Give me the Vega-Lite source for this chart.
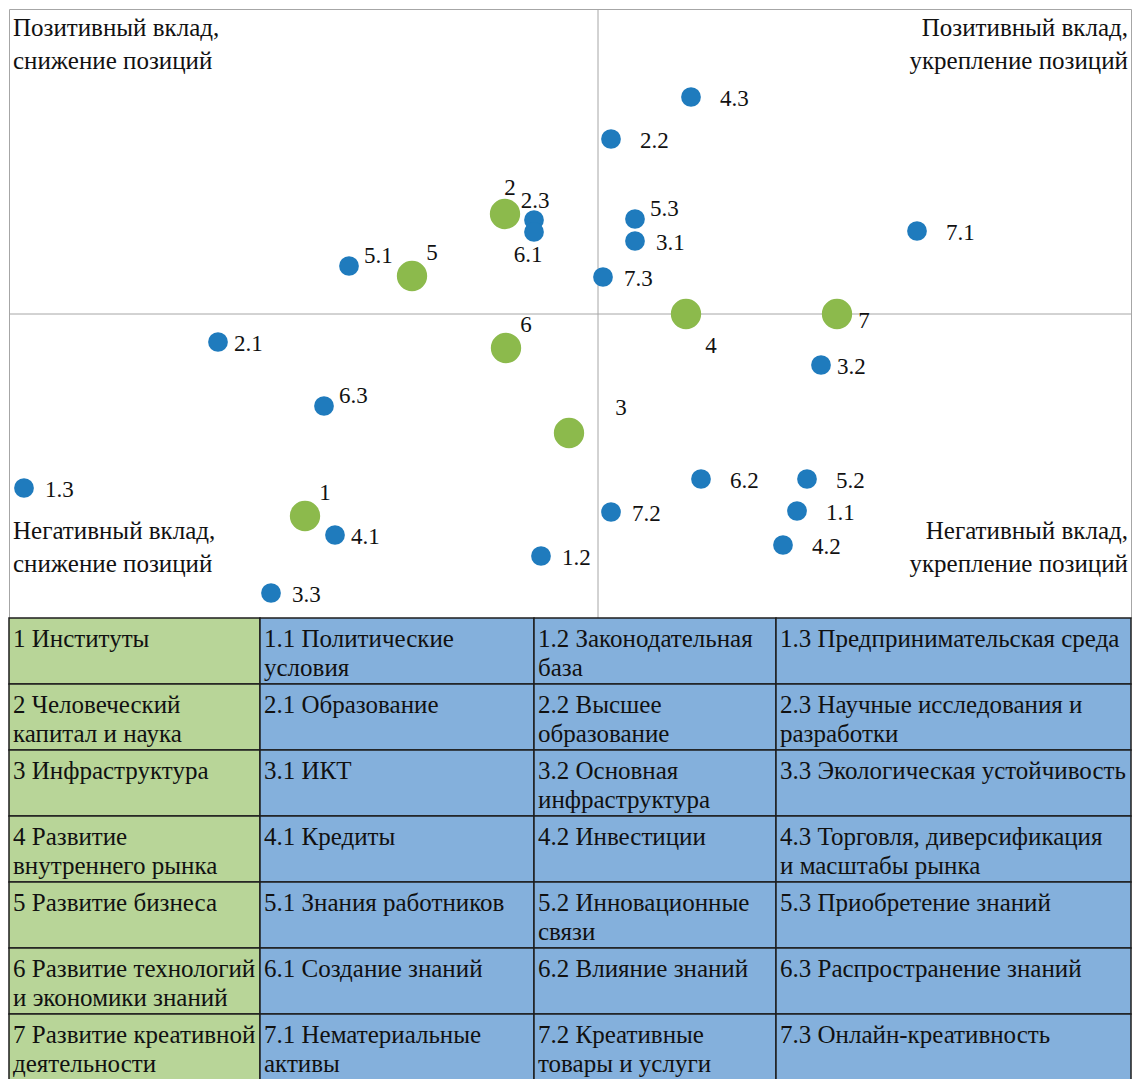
{
  "$schema": "https://vega.github.io/schema/vega-lite/v6.json",
  "background": "white",
  "padding": {"left": 8, "top": 8, "right": 4, "bottom": 0},
  "bounds": "flush",
  "spacing": 0,
  "config": {"view": {"stroke": null}, "concat": {"spacing": 0}, "font": "Liberation Serif", "text": {"font": "Liberation Serif", "color": "#111111"}},
  "datasets": {
    "pts": [
      {"id": "2", "x": -0.93, "y": 1.0, "t": "g", "lp": "k"},
      {"id": "5", "x": -1.86, "y": 0.38, "t": "g", "lp": "g"},
      {"id": "6", "x": -0.92, "y": -0.34, "t": "g", "lp": "g"},
      {"id": "4", "x": 0.88, "y": 0.0, "t": "g", "lp": "j"},
      {"id": "7", "x": 2.39, "y": 0.0, "t": "g", "lp": "i"},
      {"id": "3", "x": -0.29, "y": -1.19, "t": "g", "lp": "h"},
      {"id": "1", "x": -2.93, "y": -2.02, "t": "g", "lp": "g"},
      {"id": "4.3", "x": 0.93, "y": 2.17, "t": "b", "lp": "c"},
      {"id": "2.2", "x": 0.13, "y": 1.75, "t": "b", "lp": "c"},
      {"id": "2.3", "x": -0.64, "y": 0.94, "t": "b", "lp": "e"},
      {"id": "6.1", "x": -0.64, "y": 0.82, "t": "b", "lp": "f"},
      {"id": "5.3", "x": 0.37, "y": 0.95, "t": "b", "lp": "d"},
      {"id": "3.1", "x": 0.37, "y": 0.73, "t": "b", "lp": "b"},
      {"id": "7.1", "x": 3.19, "y": 0.83, "t": "b", "lp": "c"},
      {"id": "5.1", "x": -2.49, "y": 0.48, "t": "b", "lp": "d"},
      {"id": "7.3", "x": 0.05, "y": 0.37, "t": "b", "lp": "b"},
      {"id": "2.1", "x": -3.8, "y": -0.28, "t": "b", "lp": "a"},
      {"id": "3.2", "x": 2.23, "y": -0.51, "t": "b", "lp": "a"},
      {"id": "6.3", "x": -2.74, "y": -0.92, "t": "b", "lp": "d"},
      {"id": "1.3", "x": -5.74, "y": -1.74, "t": "b", "lp": "b"},
      {"id": "6.2", "x": 1.03, "y": -1.65, "t": "b", "lp": "c"},
      {"id": "5.2", "x": 2.09, "y": -1.65, "t": "b", "lp": "c"},
      {"id": "7.2", "x": 0.13, "y": -1.98, "t": "b", "lp": "b"},
      {"id": "1.1", "x": 1.99, "y": -1.97, "t": "b", "lp": "c"},
      {"id": "4.1", "x": -2.63, "y": -2.21, "t": "b", "lp": "a"},
      {"id": "4.2", "x": 1.85, "y": -2.31, "t": "b", "lp": "c"},
      {"id": "1.2", "x": -0.57, "y": -2.42, "t": "b", "lp": "b"},
      {"id": "3.3", "x": -3.27, "y": -2.79, "t": "b", "lp": "b"}
    ],
    "quad": [
      {"q": "TL", "x": -5.89, "y": 3.05, "label": "Позитивный вклад,\nснижение позиций"},
      {"q": "TR", "x": 5.33, "y": 3.05, "label": "Позитивный вклад,\nукрепление позиций"},
      {"q": "BL", "x": -5.89, "y": -3.04, "label": "Негативный вклад,\nснижение позиций"},
      {"q": "BR", "x": 5.33, "y": -3.04, "label": "Негативный вклад,\nукрепление позиций"}
    ],
    "tbl": [
      {"row": 1, "col": "c1", "text": "1 Институты"},
      {"row": 1, "col": "c2", "text": "1.1 Политические\nусловия"},
      {"row": 1, "col": "c3", "text": "1.2 Законодательная\nбаза"},
      {"row": 1, "col": "c4", "text": "1.3 Предпринимательская среда"},
      {"row": 2, "col": "c1", "text": "2 Человеческий\nкапитал и наука"},
      {"row": 2, "col": "c2", "text": "2.1 Образование"},
      {"row": 2, "col": "c3", "text": "2.2 Высшее\nобразование"},
      {"row": 2, "col": "c4", "text": "2.3 Научные исследования и\nразработки"},
      {"row": 3, "col": "c1", "text": "3 Инфраструктура"},
      {"row": 3, "col": "c2", "text": "3.1 ИКТ"},
      {"row": 3, "col": "c3", "text": "3.2 Основная\nинфраструктура"},
      {"row": 3, "col": "c4", "text": "3.3 Экологическая устойчивость"},
      {"row": 4, "col": "c1", "text": "4 Развитие\nвнутреннего рынка"},
      {"row": 4, "col": "c2", "text": "4.1 Кредиты"},
      {"row": 4, "col": "c3", "text": "4.2 Инвестиции"},
      {"row": 4, "col": "c4", "text": "4.3 Торговля, диверсификация\nи масштабы рынка"},
      {"row": 5, "col": "c1", "text": "5 Развитие бизнеса"},
      {"row": 5, "col": "c2", "text": "5.1 Знания работников"},
      {"row": 5, "col": "c3", "text": "5.2 Инновационные\nсвязи"},
      {"row": 5, "col": "c4", "text": "5.3 Приобретение знаний"},
      {"row": 6, "col": "c1", "text": "6 Развитие технологий\nи экономики знаний"},
      {"row": 6, "col": "c2", "text": "6.1 Создание знаний"},
      {"row": 6, "col": "c3", "text": "6.2 Влияние знаний"},
      {"row": 6, "col": "c4", "text": "6.3 Распространение знаний"},
      {"row": 7, "col": "c1", "text": "7 Развитие креативной\nдеятельности"},
      {"row": 7, "col": "c2", "text": "7.1 Нематериальные\nактивы"},
      {"row": 7, "col": "c3", "text": "7.2 Креативные\nтовары и услуги"},
      {"row": 7, "col": "c4", "text": "7.3 Онлайн-креативность"}
    ]
  },
  "vconcat": [
    {
      "width": 1122,
      "height": 609,
      "view": {"stroke": "#a6a6a6", "strokeWidth": 1},
      "layer": [
        {
          "data": {"values": [{"v": 0}]},
          "mark": {"type": "rule", "color": "#a6a6a6", "strokeWidth": 1},
          "encoding": {"x": {"field": "v", "type": "quantitative", "scale": {"domain": [-5.89, 5.33], "nice": false, "zero": false}, "axis": null}}
        },
        {
          "data": {"values": [{"v": 0}]},
          "mark": {"type": "rule", "color": "#a6a6a6", "strokeWidth": 1},
          "encoding": {"y": {"field": "v", "type": "quantitative", "scale": {"domain": [-3.04, 3.05], "nice": false, "zero": false}, "axis": null}}
        },
        {
          "data": {"name": "quad"},
          "transform": [{"filter": "datum.q == 'TL'"}],
          "mark": {"type": "text", "align": "left", "baseline": "alphabetic", "dx": 4, "dy": 27, "fontSize": 25, "lineHeight": 33, "lineBreak": "\n"},
          "encoding": {"x": {"field": "x", "type": "quantitative", "axis": null}, "y": {"field": "y", "type": "quantitative", "axis": null}, "text": {"field": "label"}}
        },
        {
          "data": {"name": "quad"},
          "transform": [{"filter": "datum.q == 'TR'"}],
          "mark": {"type": "text", "align": "right", "baseline": "alphabetic", "dx": -3, "dy": 27, "fontSize": 25, "lineHeight": 33, "lineBreak": "\n"},
          "encoding": {"x": {"field": "x", "type": "quantitative", "axis": null}, "y": {"field": "y", "type": "quantitative", "axis": null}, "text": {"field": "label"}}
        },
        {
          "data": {"name": "quad"},
          "transform": [{"filter": "datum.q == 'BL'"}],
          "mark": {"type": "text", "align": "left", "baseline": "alphabetic", "dx": 4, "dy": -79, "fontSize": 25, "lineHeight": 33, "lineBreak": "\n"},
          "encoding": {"x": {"field": "x", "type": "quantitative", "axis": null}, "y": {"field": "y", "type": "quantitative", "axis": null}, "text": {"field": "label"}}
        },
        {
          "data": {"name": "quad"},
          "transform": [{"filter": "datum.q == 'BR'"}],
          "mark": {"type": "text", "align": "right", "baseline": "alphabetic", "dx": -3, "dy": -79, "fontSize": 25, "lineHeight": 33, "lineBreak": "\n"},
          "encoding": {"x": {"field": "x", "type": "quantitative", "axis": null}, "y": {"field": "y", "type": "quantitative", "axis": null}, "text": {"field": "label"}}
        },
        {
          "data": {"name": "pts"},
          "mark": {"type": "circle", "opacity": 1},
          "encoding": {
            "x": {"field": "x", "type": "quantitative", "axis": null},
            "y": {"field": "y", "type": "quantitative", "axis": null},
            "color": {"field": "t", "type": "nominal", "scale": {"domain": ["b", "g"], "range": ["#1f7bbd", "#8cba4c"]}, "legend": null},
            "size": {"field": "t", "type": "nominal", "scale": {"domain": ["b", "g"], "range": [390, 920]}, "legend": null}
          }
        },
        {"data": {"name": "pts"}, "transform": [{"filter": "datum.lp == 'a'"}], "mark": {"type": "text", "align": "left", "baseline": "middle", "dx": 16, "dy": 2, "fontSize": 23}, "encoding": {"x": {"field": "x", "type": "quantitative", "axis": null}, "y": {"field": "y", "type": "quantitative", "axis": null}, "text": {"field": "id"}}},
        {"data": {"name": "pts"}, "transform": [{"filter": "datum.lp == 'b'"}], "mark": {"type": "text", "align": "left", "baseline": "middle", "dx": 21, "dy": 2, "fontSize": 23}, "encoding": {"x": {"field": "x", "type": "quantitative", "axis": null}, "y": {"field": "y", "type": "quantitative", "axis": null}, "text": {"field": "id"}}},
        {"data": {"name": "pts"}, "transform": [{"filter": "datum.lp == 'c'"}], "mark": {"type": "text", "align": "left", "baseline": "middle", "dx": 29, "dy": 2, "fontSize": 23}, "encoding": {"x": {"field": "x", "type": "quantitative", "axis": null}, "y": {"field": "y", "type": "quantitative", "axis": null}, "text": {"field": "id"}}},
        {"data": {"name": "pts"}, "transform": [{"filter": "datum.lp == 'd'"}], "mark": {"type": "text", "align": "left", "baseline": "middle", "dx": 15, "dy": -10, "fontSize": 23}, "encoding": {"x": {"field": "x", "type": "quantitative", "axis": null}, "y": {"field": "y", "type": "quantitative", "axis": null}, "text": {"field": "id"}}},
        {"data": {"name": "pts"}, "transform": [{"filter": "datum.lp == 'e'"}], "mark": {"type": "text", "align": "center", "baseline": "middle", "dx": 1, "dy": -19, "fontSize": 23}, "encoding": {"x": {"field": "x", "type": "quantitative", "axis": null}, "y": {"field": "y", "type": "quantitative", "axis": null}, "text": {"field": "id"}}},
        {"data": {"name": "pts"}, "transform": [{"filter": "datum.lp == 'f'"}], "mark": {"type": "text", "align": "center", "baseline": "middle", "dx": -6, "dy": 23, "fontSize": 23}, "encoding": {"x": {"field": "x", "type": "quantitative", "axis": null}, "y": {"field": "y", "type": "quantitative", "axis": null}, "text": {"field": "id"}}},
        {"data": {"name": "pts"}, "transform": [{"filter": "datum.lp == 'g'"}], "mark": {"type": "text", "align": "center", "baseline": "middle", "dx": 20, "dy": -23, "fontSize": 23}, "encoding": {"x": {"field": "x", "type": "quantitative", "axis": null}, "y": {"field": "y", "type": "quantitative", "axis": null}, "text": {"field": "id"}}},
        {"data": {"name": "pts"}, "transform": [{"filter": "datum.lp == 'h'"}], "mark": {"type": "text", "align": "center", "baseline": "middle", "dx": 52, "dy": -25, "fontSize": 23}, "encoding": {"x": {"field": "x", "type": "quantitative", "axis": null}, "y": {"field": "y", "type": "quantitative", "axis": null}, "text": {"field": "id"}}},
        {"data": {"name": "pts"}, "transform": [{"filter": "datum.lp == 'i'"}], "mark": {"type": "text", "align": "center", "baseline": "middle", "dx": 27, "dy": 7, "fontSize": 23}, "encoding": {"x": {"field": "x", "type": "quantitative", "axis": null}, "y": {"field": "y", "type": "quantitative", "axis": null}, "text": {"field": "id"}}},
        {"data": {"name": "pts"}, "transform": [{"filter": "datum.lp == 'j'"}], "mark": {"type": "text", "align": "center", "baseline": "middle", "dx": 25, "dy": 32, "fontSize": 23}, "encoding": {"x": {"field": "x", "type": "quantitative", "axis": null}, "y": {"field": "y", "type": "quantitative", "axis": null}, "text": {"field": "id"}}},
        {"data": {"name": "pts"}, "transform": [{"filter": "datum.lp == 'k'"}], "mark": {"type": "text", "align": "center", "baseline": "middle", "dx": 5, "dy": -26, "fontSize": 23}, "encoding": {"x": {"field": "x", "type": "quantitative", "axis": null}, "y": {"field": "y", "type": "quantitative", "axis": null}, "text": {"field": "id"}}}
      ]
    },
    {
      "spacing": 0,
      "bounds": "flush",
      "hconcat": [
        {
          "width": 251, "height": 462,
          "data": {"name": "tbl"},
          "transform": [{"filter": "datum.col == 'c1'"}],
          "layer": [
            {"mark": {"type": "rect", "fill": "#b8d598", "stroke": "#1e1e1e", "strokeWidth": 1.5}, "encoding": {"x": {"field": "col", "type": "nominal", "scale": {"paddingInner": 0, "paddingOuter": 0}, "axis": null}, "y": {"field": "row", "type": "ordinal", "scale": {"paddingInner": 0, "paddingOuter": 0}, "axis": null}}},
            {"mark": {"type": "text", "align": "left", "baseline": "alphabetic", "dx": 4, "dy": 29, "fontSize": 25, "lineHeight": 29, "lineBreak": "\n"}, "encoding": {"x": {"field": "col", "type": "nominal", "bandPosition": 0, "axis": null}, "y": {"field": "row", "type": "ordinal", "bandPosition": 0, "axis": null}, "text": {"field": "text"}}}
          ]
        },
        {
          "width": 274, "height": 462,
          "data": {"name": "tbl"},
          "transform": [{"filter": "datum.col == 'c2'"}],
          "layer": [
            {"mark": {"type": "rect", "fill": "#84b0dc", "stroke": "#1e1e1e", "strokeWidth": 1.5}, "encoding": {"x": {"field": "col", "type": "nominal", "scale": {"paddingInner": 0, "paddingOuter": 0}, "axis": null}, "y": {"field": "row", "type": "ordinal", "scale": {"paddingInner": 0, "paddingOuter": 0}, "axis": null}}},
            {"mark": {"type": "text", "align": "left", "baseline": "alphabetic", "dx": 4, "dy": 29, "fontSize": 25, "lineHeight": 29, "lineBreak": "\n"}, "encoding": {"x": {"field": "col", "type": "nominal", "bandPosition": 0, "axis": null}, "y": {"field": "row", "type": "ordinal", "bandPosition": 0, "axis": null}, "text": {"field": "text"}}}
          ]
        },
        {
          "width": 242, "height": 462,
          "data": {"name": "tbl"},
          "transform": [{"filter": "datum.col == 'c3'"}],
          "layer": [
            {"mark": {"type": "rect", "fill": "#84b0dc", "stroke": "#1e1e1e", "strokeWidth": 1.5}, "encoding": {"x": {"field": "col", "type": "nominal", "scale": {"paddingInner": 0, "paddingOuter": 0}, "axis": null}, "y": {"field": "row", "type": "ordinal", "scale": {"paddingInner": 0, "paddingOuter": 0}, "axis": null}}},
            {"mark": {"type": "text", "align": "left", "baseline": "alphabetic", "dx": 4, "dy": 29, "fontSize": 25, "lineHeight": 29, "lineBreak": "\n"}, "encoding": {"x": {"field": "col", "type": "nominal", "bandPosition": 0, "axis": null}, "y": {"field": "row", "type": "ordinal", "bandPosition": 0, "axis": null}, "text": {"field": "text"}}}
          ]
        },
        {
          "width": 355, "height": 462,
          "data": {"name": "tbl"},
          "transform": [{"filter": "datum.col == 'c4'"}],
          "layer": [
            {"mark": {"type": "rect", "fill": "#84b0dc", "stroke": "#1e1e1e", "strokeWidth": 1.5}, "encoding": {"x": {"field": "col", "type": "nominal", "scale": {"paddingInner": 0, "paddingOuter": 0}, "axis": null}, "y": {"field": "row", "type": "ordinal", "scale": {"paddingInner": 0, "paddingOuter": 0}, "axis": null}}},
            {"mark": {"type": "text", "align": "left", "baseline": "alphabetic", "dx": 4, "dy": 29, "fontSize": 25, "lineHeight": 29, "lineBreak": "\n"}, "encoding": {"x": {"field": "col", "type": "nominal", "bandPosition": 0, "axis": null}, "y": {"field": "row", "type": "ordinal", "bandPosition": 0, "axis": null}, "text": {"field": "text"}}}
          ]
        }
      ]
    }
  ]
}
